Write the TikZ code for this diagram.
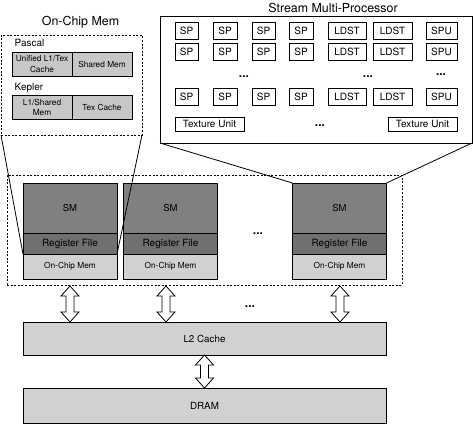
\documentclass[tikz,border=0pt]{standalone}
\usepackage{fontspec}
\setmainfont{TeX Gyre Heros}
\usetikzlibrary{calc}

\tikzset{
  unit/.style={draw, line width=0.8pt, fill=white, inner sep=0pt, outer sep=0pt,
    minimum height=17pt, font=\fontsize{10}{12}\selectfont},
  cachebox/.style={draw, line width=0.8pt, fill=black!22, inner sep=0pt, outer sep=0pt,
    minimum width=60pt, minimum height=24.5pt, align=center,
    font=\fontsize{8.3}{10.5}\selectfont},
  smpart/.style={draw, line width=0.8pt, inner sep=0pt, outer sep=0pt, minimum width=94pt},
  dashbox/.style={draw, line width=0.9pt, dash pattern=on 2pt off 1.6pt,
    inner sep=0pt, outer sep=0pt},
  membar/.style={draw, line width=0.8pt, fill=black!18, inner sep=0pt, outer sep=0pt,
    minimum width=363pt, anchor=north west, font=\fontsize{9.8}{12}\selectfont},
  dotdot/.style={font=\fontsize{12}{12}\selectfont\bfseries, inner sep=0pt},
  title/.style={font=\fontsize{12.4}{14}\selectfont, inner sep=0pt},
  archlabel/.style={anchor=west, inner sep=0pt, font=\fontsize{10}{12}\selectfont},
  bus/.style={draw, line width=0.8pt, fill=white,
    to path={let \p1=(\tikztostart), \p2=(\tikztotarget) in
      (\x1,\y1) -- (\x1+9,\y1-10) -- (\x1+4,\y1-10) -- (\x1+4,\y2+10)
      -- (\x1+9,\y2+10) -- (\x1,\y2) -- (\x1-9,\y2+10) -- (\x1-4,\y2+10)
      -- (\x1-4,\y1-10) -- (\x1-9,\y1-10) -- cycle}},
}

\begin{document}
\begin{tikzpicture}[x=1pt, y=-1pt]
  \useasboundingbox (0,0) rectangle (474,424);

  % On-chip memory detail
  \node[title] (ocmtitle) at (80.5,22) {On-Chip Mem};
  \node[dashbox, minimum width=141pt, minimum height=100pt, anchor=north west] (ocmzoom) at (1,35) {};
  \node[archlabel] (pascal) at (14.5,43) {Pascal};
  \node[cachebox, anchor=north west] (pl1) at (12,52) {Unified L1/Tex\\Cache};
  \node[cachebox, anchor=west] (psmem) at (pl1.east) {Shared Mem};
  \node[archlabel] (kepler) at (14.5,88) {Kepler};
  \node[cachebox, anchor=north west] (kl1) at (12,95) {L1/Shared\\Mem};
  \node[cachebox, anchor=west] (ktex) at (kl1.east) {Tex Cache};

  % Stream multi-processor detail
  \node[title] (smptitle) at (333,8) {Stream Multi-Processor};
  \node[draw, line width=1pt, minimum width=312pt, minimum height=127pt, anchor=north west,
    inner sep=0pt, outer sep=0pt] (smp) at (160,16) {};
  \foreach \r/\y in {1/30.5, 2/52, 3/96.5}
    \foreach \c/\x/\w/\t in {1/186.5/23/SP, 2/225/24/SP, 3/263.5/23/SP, 4/301/24/SP,
                             5/347/38/LDST, 6/392.5/39/LDST, 7/441.5/31/SPU}
      \node[unit, minimum width=\w pt] (u\r\c) at (\x,\y) {\t};
  \node[unit, minimum width=69pt, minimum height=14pt] (texl) at (209.5,124) {Texture Unit};
  \node[unit, minimum width=69pt, minimum height=14pt] (texr) at (422.5,124) {Texture Unit};
  \node[dotdot] (dotsa) at (244,77) {...};
  \node[dotdot] (dotsb) at (368,77) {...};
  \node[dotdot] (dotsc) at (441,75) {...};
  \node[dotdot] (dotsd) at (320,126) {...};

  % SM array
  \node[dashbox, minimum width=395pt, minimum height=110pt, anchor=north west] (smarray) at (7,175) {};
  \foreach \i/\x in {1/23, 2/123.5, 3/292.5} {
    \node[smpart, fill=black!50, minimum height=50pt, anchor=north west,
      font=\fontsize{9.5}{12}\selectfont] (sm\i) at (\x,183) {SM};
    \node[smpart, fill=black!56, minimum height=21pt, anchor=north,
      font=\fontsize{10}{12}\selectfont] (rf\i) at (sm\i.south) {Register File};
    \node[smpart, fill=black!18, minimum height=25pt, anchor=north,
      font=\fontsize{8.3}{10}\selectfont] (ocm\i) at (rf\i.south) {On-Chip Mem};
  }
  \node[dotdot] (dotse) at (258,234) {...};

  % zoom lines
  \draw[line width=0.8pt] (ocmzoom.south west) -- (ocm1.north west);
  \draw[line width=0.8pt] (ocmzoom.south east) -- (ocm1.north east);
  \draw[line width=0.8pt] (smp.south west) -- (sm3.north west);
  \draw[line width=0.8pt] (smp.south east) -- (sm3.north east);

  % memory hierarchy
  \node[membar, minimum height=33pt] (l2) at (23,322) {L2 Cache};
  \node[membar, minimum height=35pt] (dram) at (23,388) {DRAM};

  \coordinate (bus1) at (70,286);
  \coordinate (bus2) at (166,286);
  \coordinate (bus3) at (340,286);
  \foreach \b in {1,2,3}
    \draw[bus] (bus\b) to (bus\b |- l2.north);
  \draw[bus] (l2.south) to (dram.north);
  \node[dotdot] (dotsf) at (250,307) {...};
\end{tikzpicture}
\end{document}
